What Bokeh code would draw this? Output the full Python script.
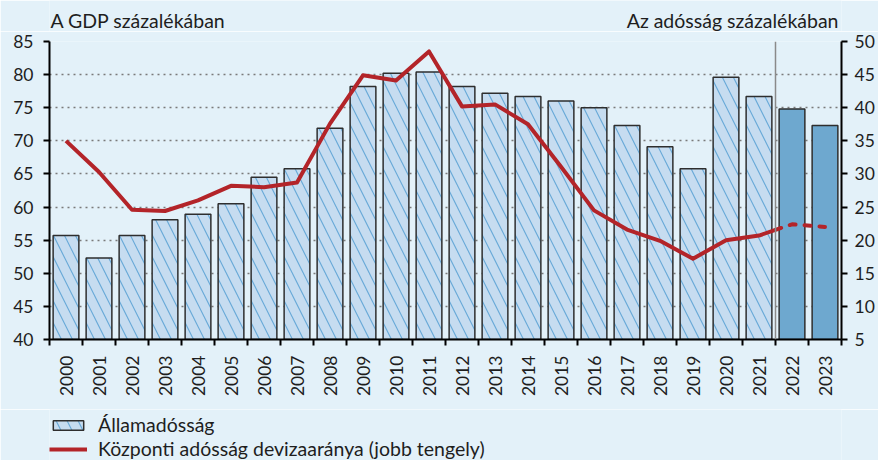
import math
import pandas as pd
from bokeh.plotting import figure
from bokeh.layouts import column
from bokeh.models import (ColumnDataSource, Range1d, LinearAxis, FixedTicker,
                          Legend, LegendItem, Span)
from bokeh.core.properties import value
from bokeh.embed import file_html
from bokeh.resources import INLINE

# ---- data ----
years = list(range(2000, 2024))
debt_gdp = [55.7, 52.3, 55.7, 58.1, 58.9, 60.5, 64.5, 65.8, 71.9, 78.2, 80.2, 80.4,
            78.2, 77.2, 76.7, 76.0, 75.0, 72.3, 69.1, 65.8, 79.6, 76.7, 74.8, 72.3]
fx_share = [35.0, 30.3, 24.6, 24.4, 26.0, 28.2, 28.0, 28.7, 37.6, 44.9, 44.1, 48.5,
            40.2, 40.5, 37.5, 31.1, 24.5, 21.6, 19.9, 17.2, 20.0, 20.7, 22.4, 22.0]
forecast_years = [2022, 2023]
left_ticks = [40, 45, 50, 55, 60, 65, 70, 75, 80, 85]
right_ticks = [5, 10, 15, 20, 25, 30, 35, 40, 45, 50]
title_left = "A GDP százalékában"
title_right = "Az adósság százalékában"
legend_bar = "Államadósság"
legend_line = "Központi adósság devizaaránya (jobb tengely)"

# ---- styles ----
W = 878
BG = "#E3F1F9"
FONT = "Lato"
TXT = "#1e1e1e"
BAR_FILL = "#C6DCF0"
HATCH = "#6AAAD8"
FC_FILL = "#6EA8CF"
RED = "#B32429"
TICK_FS = "17.5px"
TEXT_FS = "19.5px"
TITLE_FS = "19.5px"
BL, BR = 49, 37
FW = W - BL - BR

bar_style = dict(fill_color=BAR_FILL, line_color="#2e2e2e", line_width=1.5,
                 hatch_pattern="\\", hatch_color=HATCH, hatch_scale=22,
                 hatch_weight=1.2)
line_style = dict(line_color=RED, line_width=4)

df = pd.DataFrame({"year": years, "debt": debt_gdp, "fx": fx_share})
df["fc"] = df["year"].isin(forecast_years)
hist = df[~df["fc"]]
fc = df[df["fc"]]

last_hist = hist["year"].max()
first_fc = fc["year"].min()
split_x = (last_hist + first_fc) / 2
split_val = (hist["fx"].iloc[-1] + fc["fx"].iloc[0]) / 2

solid_x = list(hist["year"]) + [split_x]
solid_y = list(hist["fx"]) + [split_val]
dash_x = [split_x] + list(fc["year"])
dash_y = [split_val] + list(fc["fx"])

x0, x1 = years[0] - 0.5, years[-1] + 0.5


def blank_fig(h, y_range):
    f = figure(width=W, height=h, output_backend="svg", toolbar_location=None,
               x_axis_type=None, y_axis_type=None,
               x_range=Range1d(0, FW), y_range=y_range,
               min_border_left=BL, min_border_right=BR, min_border_top=0,
               min_border_bottom=0)
    f.grid.visible = False
    f.background_fill_color = BG
    f.border_fill_color = BG
    f.outline_line_color = None
    return f


# ---- top strip with the two axis titles ----
TOP_H = 31
top = blank_fig(TOP_H, Range1d(0, TOP_H))
top.text(x=[1], y=[11.5], text=[title_left], text_align="left",
         text_baseline="middle", text_font=value(FONT),
         text_font_size=TITLE_FS, text_color=TXT)
top.text(x=[FW - 3], y=[11.5], text=[title_right], text_align="right",
         text_baseline="middle", text_font=value(FONT),
         text_font_size=TITLE_FS, text_color=TXT)

# ---- main chart ----
p = figure(width=W, height=378, output_backend="svg", toolbar_location=None,
           x_range=Range1d(x0, x1), y_range=Range1d(left_ticks[0], left_ticks[-1]),
           min_border_left=BL, min_border_right=BR, min_border_top=10,
           min_border_bottom=70)
p.extra_y_ranges = {"right": Range1d(right_ticks[0], right_ticks[-1])}
p.background_fill_color = BG
p.border_fill_color = BG
p.outline_line_color = None

p.xgrid.grid_line_color = None
p.ygrid.ticker = FixedTicker(ticks=left_ticks)
p.ygrid.grid_line_color = "#7a7a7a"
p.ygrid.grid_line_dash = "2 4"
p.ygrid.grid_line_width = 1.5

p.vbar(x="year", top="debt", bottom=left_ticks[0], width=0.78,
       source=ColumnDataSource(hist), **bar_style)
p.vbar(x="year", top="debt", bottom=left_ticks[0], width=0.78,
       source=ColumnDataSource(fc), fill_color=FC_FILL,
       line_color="#2e2e2e", line_width=1.5)

p.add_layout(Span(location=split_x, dimension="height", line_color="#8a8a8a",
                  line_width=1.5))

p.line(solid_x, solid_y, y_range_name="right", line_join="round", **line_style)
p.line(dash_x, dash_y, y_range_name="right", line_dash="6 9", line_cap="round",
       **line_style)

xa = p.xaxis[0]
xa.ticker = FixedTicker(ticks=years,
                        minor_ticks=[y - 0.5 for y in years] + [years[-1] + 0.5])
xa.major_tick_out = 0
xa.major_tick_in = 0
xa.minor_tick_out = 6
xa.minor_tick_in = 0
xa.minor_tick_line_width = 2
xa.minor_tick_line_color = "black"
xa.axis_line_width = 2
xa.axis_line_color = "black"
xa.major_label_orientation = math.pi / 2
xa.major_label_standoff = 10
xa.major_label_text_font = FONT
xa.major_label_text_font_size = TICK_FS
xa.major_label_text_color = TXT


def style_y(a, standoff):
    a.minor_tick_out = 0
    a.minor_tick_in = 0
    a.major_tick_out = 6
    a.major_tick_in = 0
    a.major_tick_line_width = 2
    a.axis_line_width = 2
    a.axis_line_color = "black"
    a.major_label_standoff = standoff
    a.major_label_text_font = FONT
    a.major_label_text_font_size = TICK_FS
    a.major_label_text_color = TXT


ya = p.yaxis[0]
ya.ticker = FixedTicker(ticks=left_ticks)
style_y(ya, 10)

ra = LinearAxis(y_range_name="right", ticker=FixedTicker(ticks=right_ticks))
style_y(ra, 7)
p.add_layout(ra, "right")

# ---- legend strip (hidden copies of the renderers supply the legend glyphs) ----
LEG_H = 460 - TOP_H - 378
leg = blank_fig(LEG_H, Range1d(-2 * LEG_H, -LEG_H))
lr_bar = leg.vbar(x="year", top="debt", width=0.78,
                  source=ColumnDataSource(hist), **bar_style)
lr_line = leg.line(x="year", y="fx", source=ColumnDataSource(hist), **line_style)
lr_bar.visible = False
lr_line.visible = False

leg_common = dict(orientation="vertical", margin=0, padding=0, spacing=0,
                  glyph_width=38, glyph_height=12, label_height=20,
                  label_standoff=11, label_text_font=FONT,
                  label_text_font_size=TEXT_FS, label_text_color=TXT,
                  border_line_alpha=0, background_fill_alpha=0,
                  inactive_fill_alpha=0, click_policy="none")
leg1 = Legend(items=[LegendItem(label=legend_bar, renderers=[lr_bar])],
              location=(0, 24), **leg_common)
leg2 = Legend(items=[LegendItem(label=legend_line, renderers=[lr_line])],
              location=(0, 0), **leg_common)
leg.add_layout(leg1, "center")
leg.add_layout(leg2, "center")

layout = column(top, p, leg, spacing=0)
open("out.html", "w").write(file_html(layout, INLINE))
